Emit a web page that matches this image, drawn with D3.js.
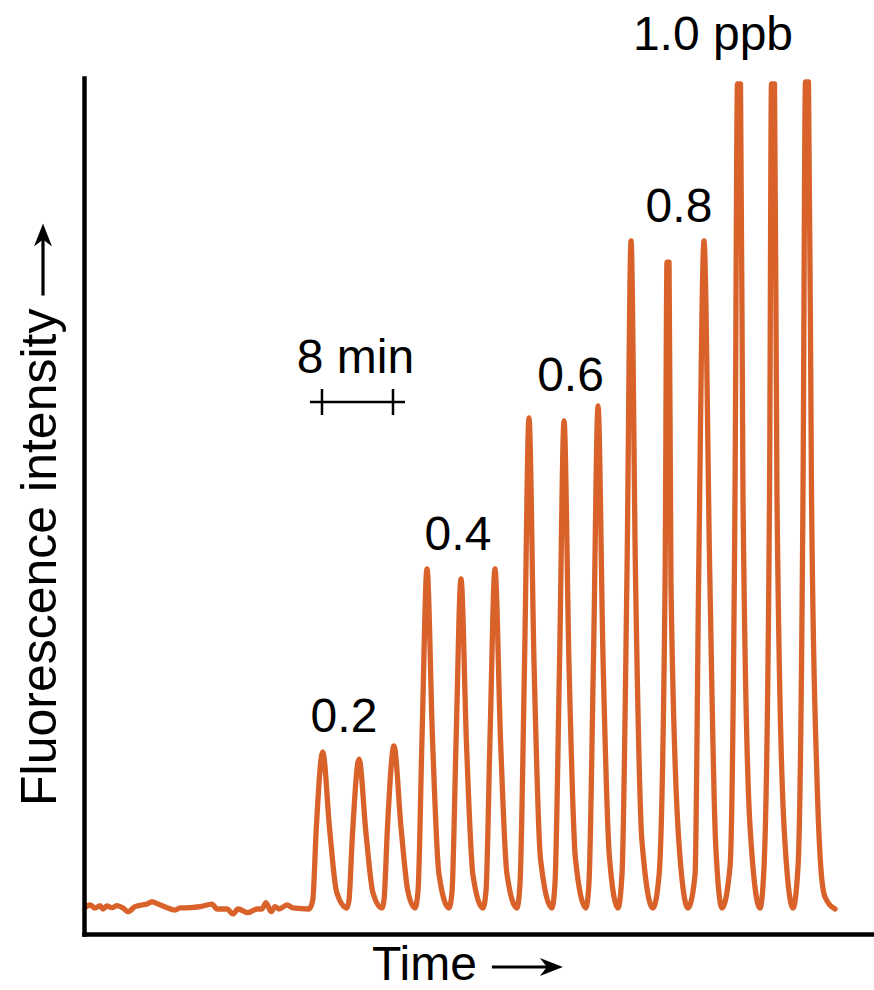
<!DOCTYPE html>
<html><head><meta charset="utf-8">
<script src="https://cdn.jsdelivr.net/npm/d3@7"></script>
<style>
html,body{margin:0;padding:0;background:#fff;}
svg{display:block;}
text{font-family:"Liberation Sans",Arial,Helvetica,sans-serif;fill:#000;}
</style>
</head><body>
<svg id="chart" width="874" height="990"></svg>
<script>
// ---- data (time in minutes, fluorescence in arbitrary units) ----
const traceTime = [
  0.23,0.68,1.24,1.80,2.14,2.59,3.15,3.72,4.39,4.96,5.75,6.53,7.10,7.66,8.34,9.35,10.25,10.82,11.94,13.07,
  14.42,14.98,16.11,16.79,17.35,18.48,19.49,20.05,20.50,21.07,21.52,21.97,22.87,23.55,25.35,
  25.77,26.16,26.89,27.68,28.47,29.63,
  29.85,30.25,30.98,31.77,32.56,33.57,
  33.80,34.19,34.92,35.71,36.50,37.29,
  37.63,38.08,38.64,39.26,39.99,41.12,
  41.46,41.91,42.47,43.09,43.82,44.95,
  45.29,45.74,46.30,46.92,47.65,48.78,
  49.12,49.63,50.13,50.70,51.43,52.72,
  53.06,53.57,54.08,54.64,55.37,56.55,
  56.89,57.40,57.91,58.47,59.20,60.16,
  60.61,61.17,61.63,62.13,62.86,64.10,
  64.78,65.46,65.68,65.91,66.13,67.03,68.05,
  68.84,69.25,69.85,70.50,71.15,71.88,
  72.78,73.34,73.62,73.96,74.24,75.03,76.16,
  76.61,77.23,77.45,77.79,78.07,78.86,79.88,
  80.44,81.00,81.28,81.62,81.96,82.58,83.03,83.48,84.61
];
const traceSignal = [
  3.19,3.39,3.04,3.31,2.92,3.27,3.07,3.31,3.04,2.61,3.19,3.39,3.50,3.77,3.50,3.07,2.80,3.04,3.07,3.19,
  3.50,2.92,2.92,2.34,2.92,2.49,2.92,2.92,3.66,2.61,3.19,2.92,3.39,3.04,2.92,
  3.95,12.15,21.26,12.15,4.86,3.04,
  3.91,11.74,20.44,11.74,4.78,3.04,
  3.98,12.50,21.96,12.50,4.93,3.04,
  5.02,22.84,42.64,22.84,7.00,3.04,
  4.95,22.25,41.47,22.25,6.88,3.04,
  5.02,22.84,42.64,22.84,7.00,3.04,
  5.90,31.66,60.28,31.66,8.76,3.04,
  5.88,31.48,59.93,31.48,8.73,3.04,
  5.97,32.36,61.68,32.36,8.90,3.04,
  6.93,42.00,80.96,42.00,10.83,3.04,
  6.81,40.77,78.50,78.50,40.77,10.58,3.04,
  6.93,42.00,80.96,42.00,10.83,3.04,
  7.85,51.17,99.30,99.30,51.17,12.66,3.04,
  7.85,51.17,99.30,99.30,51.17,12.66,3.04,
  7.86,51.29,99.53,99.53,51.29,17.99,7.48,4.32,2.92
];
const concLabels = ["0.2","0.4","0.6","0.8","1.0 ppb"];
const concLabelTime = [29.29,42.13,54.81,67.03,70.86];
const concLabelSignal = [23.60,44.86,63.43,83.18,103.27];
const scaleBarStart = 26.81;
const scaleBarMinutes = 8;
const scaleBarSignal = 62.15;
const scaleBarLabel = "8 min";
const xTitle = "Time";
const yTitle = "Fluorescence intensity";

// ---- drawing ----
const svg = d3.select("#chart");
const x = d3.scaleLinear().domain([0, 89]).range([84, 874]);
const y = d3.scaleLinear().domain([0, 100]).range([934, 78]);
const orange = "#D9622A";

const trace = traceTime.map((t, i) => [t, traceSignal[i]]);

svg.append("path")
  .datum(trace)
  .attr("fill", "none")
  .attr("stroke", orange)
  .attr("stroke-width", 5.3)
  .attr("stroke-linejoin", "round")
  .attr("stroke-linecap", "round")
  .attr("d", d3.line().x(d => x(d[0])).y(d => y(d[1])).curve(d3.curveMonotoneX));

// axes (plain lines, no ticks)
const xAxis = svg.append("g").attr("transform", `translate(0,${y(0)})`)
  .call(d3.axisBottom(x).tickValues([]).tickSizeOuter(0));
const yAxis = svg.append("g").attr("transform", `translate(${x(0)},0)`)
  .call(d3.axisLeft(y).tickValues([]).tickSizeOuter(0));
[xAxis, yAxis].forEach(g => g.select(".domain")
  .attr("stroke", "#000").attr("stroke-width", 4.5).attr("stroke-linecap", "square"));

// concentration labels
svg.selectAll("text.conc").data(concLabels).join("text")
  .attr("class", "conc")
  .attr("x", (d, i) => x(concLabelTime[i]))
  .attr("y", (d, i) => y(concLabelSignal[i]))
  .attr("text-anchor", "middle")
  .attr("font-size", 48)
  .text(d => d);

// scale bar
const sx0 = x(scaleBarStart), sx1 = x(scaleBarStart + scaleBarMinutes), sy = y(scaleBarSignal);
const sb = svg.append("g").attr("stroke", "#000").attr("stroke-width", 2.5);
sb.append("line").attr("x1", sx0 - 12).attr("x2", sx1 + 12).attr("y1", sy).attr("y2", sy);
[sx0, sx1].forEach(sx => sb.append("line").attr("x1", sx).attr("x2", sx).attr("y1", sy - 13).attr("y2", sy + 13));
svg.append("text").attr("x", (sx0 + sx1) / 2 - 2).attr("y", sy - 29)
  .attr("text-anchor", "middle").attr("font-size", 48).text(scaleBarLabel);

// arrow helper (horizontal, in local coords)
function arrow(g, x0, len, yy) {
  const x1 = x0 + len;
  g.append("line").attr("x1", x0).attr("x2", x1 - 10).attr("y1", yy).attr("y2", yy)
    .attr("stroke", "#000").attr("stroke-width", 3.2);
  g.append("path")
    .attr("d", `M${x1},${yy} L${x1 - 23},${yy - 9} L${x1 - 16},${yy} L${x1 - 23},${yy + 9} Z`)
    .attr("fill", "#000");
}

// x title
const xt = svg.append("g").attr("transform", "translate(372,980)");
const xtText = xt.append("text").attr("x", 0).attr("y", 0).attr("font-size", 48).text(xTitle);
arrow(xt, xtText.node().getComputedTextLength() + 15, 71, -13);

// y title
const yt = svg.append("g").attr("transform", "translate(56,806) rotate(-90)");
const ytText = yt.append("text").attr("x", 0).attr("y", 0).attr("font-size", 50).text(yTitle);
arrow(yt, ytText.node().getComputedTextLength() + 13, 72, -13);
</script>
</body></html>
